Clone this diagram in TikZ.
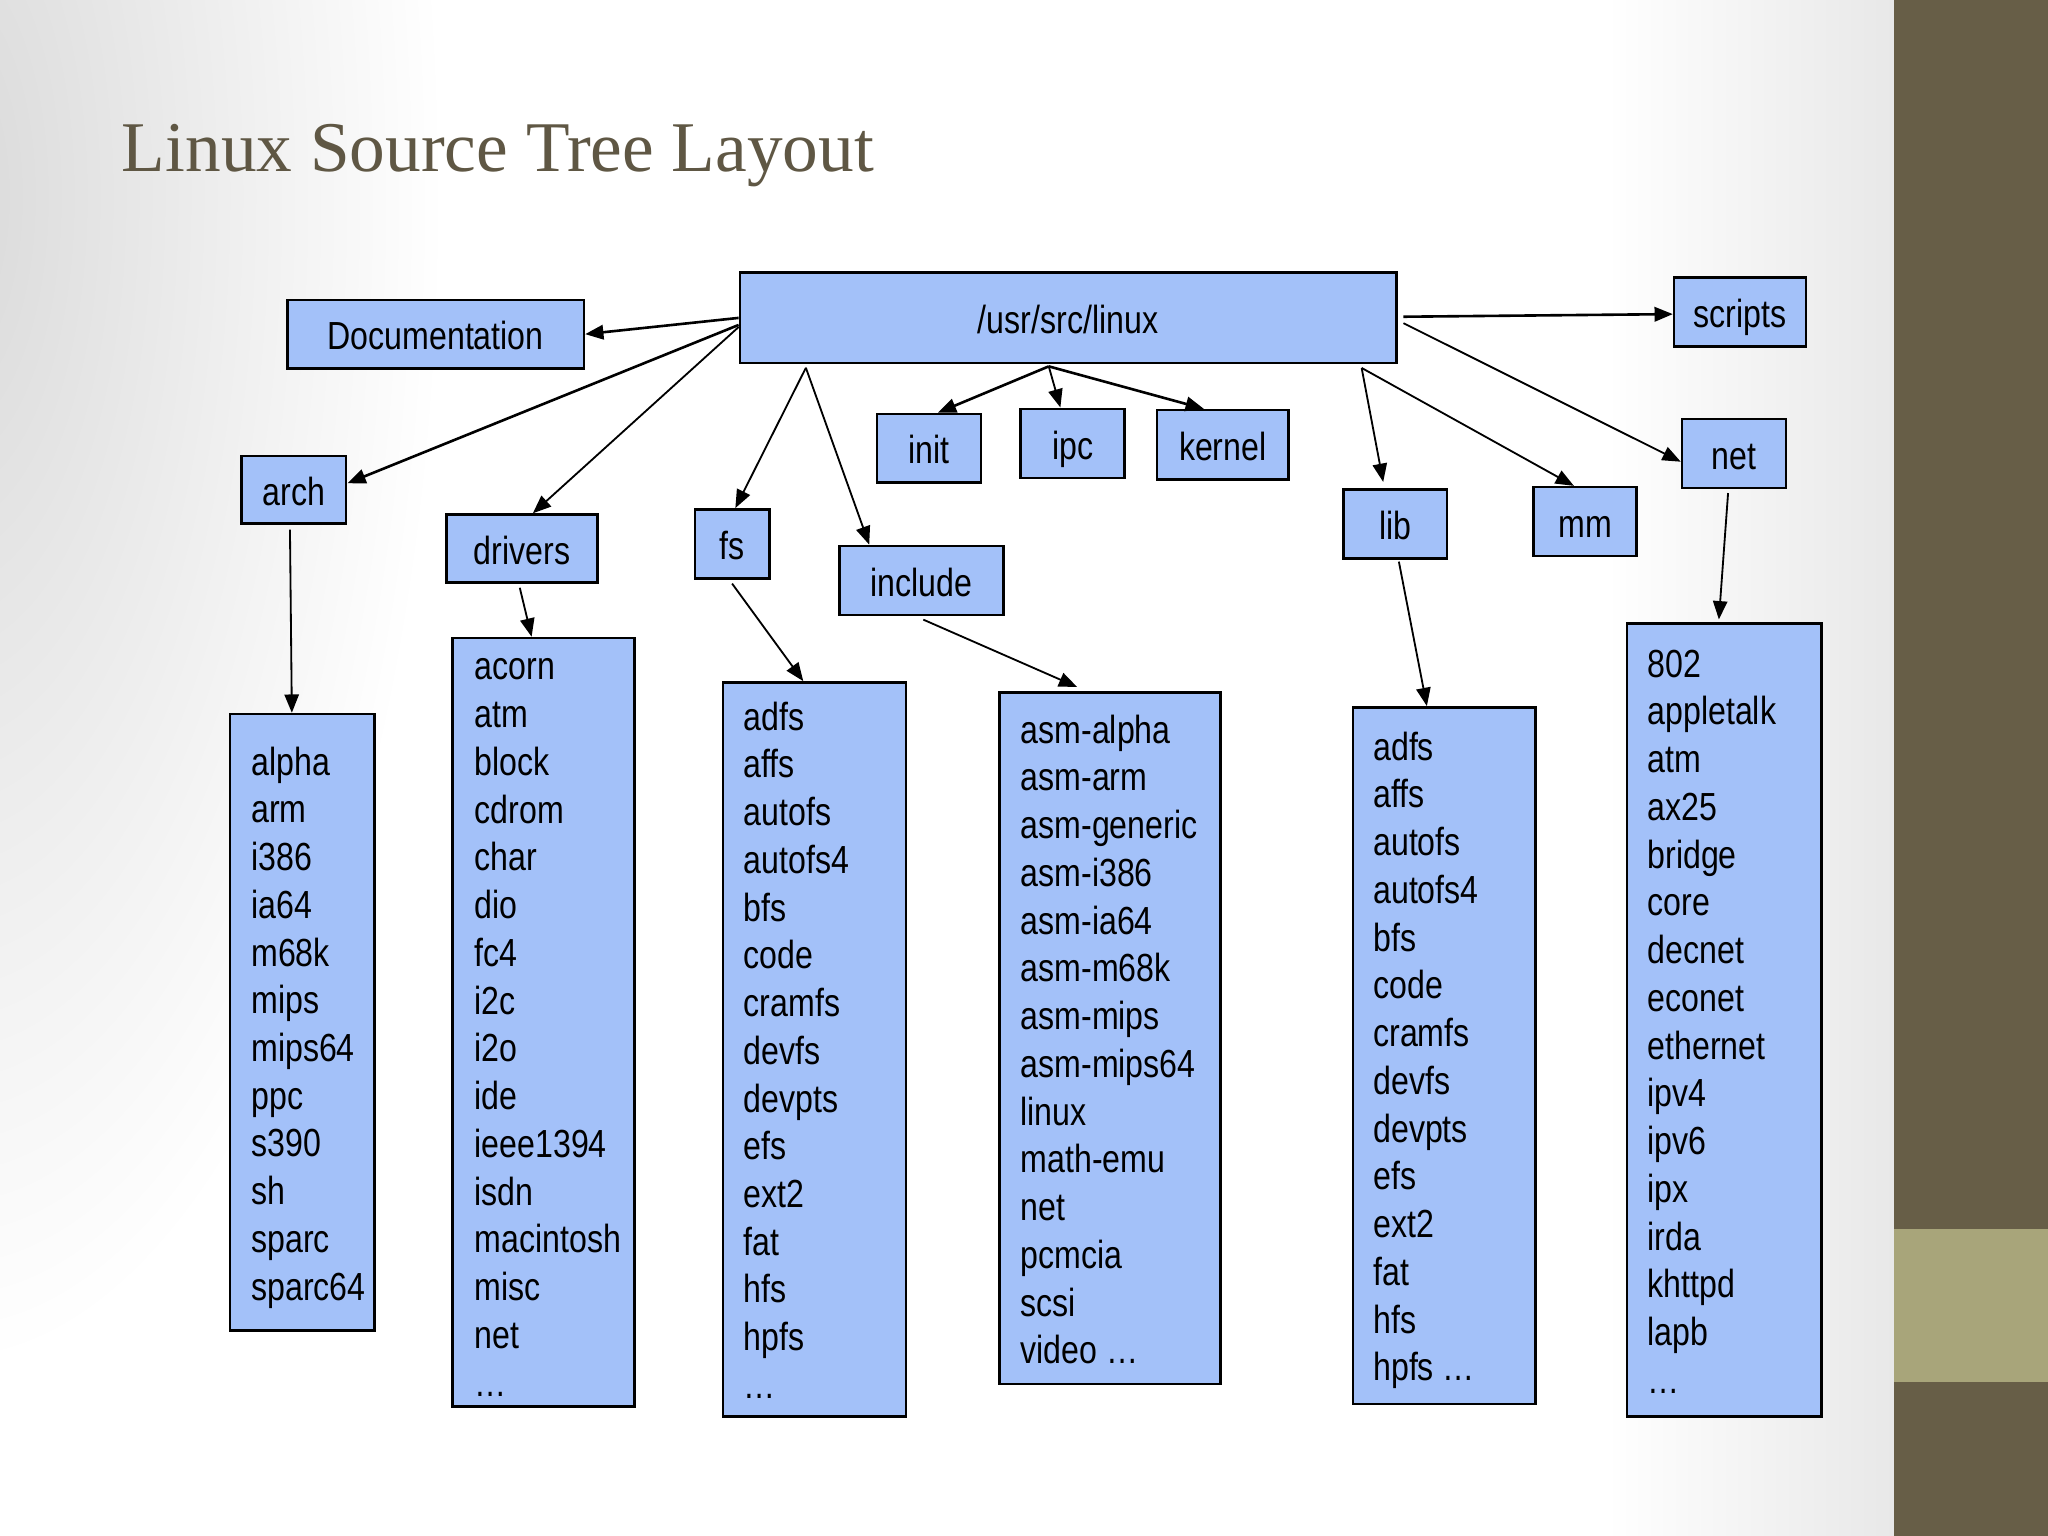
\documentclass[tikz,border=0pt]{standalone}
\usepackage{fontspec}
\setmainfont{Liberation Sans}
\newfontfamily\narrowsans{Liberation Sans}[FakeStretch=0.82]
\newfontfamily\titleserif{Liberation Serif}
\usetikzlibrary{arrows.meta,calc}
\definecolor{boxblue}{HTML}{A3C1F9}
\definecolor{barbrown}{HTML}{675E47}
\definecolor{barlight}{HTML}{A8A57A}
\definecolor{titlecol}{HTML}{5F5744}
\newcommand\bxfont{\narrowsans\fontsize{15}{18}\selectfont}
\begin{document}
\begin{tikzpicture}[x=0.5pt,y=-0.5pt,
  box/.style={draw=black,line width=1pt,fill=boxblue,inner sep=0pt,font=\bxfont,text height=12pt,text depth=0pt},
  item/.style={font=\bxfont,inner sep=0pt,anchor=base west},
  arr/.style={-{Triangle[length=7pt,width=5.5pt]},line width=0.7pt},
  tarr/.style={arr,line width=1pt}]
\useasboundingbox (0,0) rectangle (1568,1176);
% background
\fill[white] (0,0) rectangle (1568,1176);
\begin{scope}
\clip (0,0) rectangle (1450,1176);
\shade[inner color=black!15,outer color=white] (-40,150) ellipse (380 and 900);
\shade[left color=white,right color=black!9] (1230,0) rectangle (1450,1176);
\end{scope}
\fill[barbrown] (1450,0) rectangle (1568,1176);
\fill[barlight] (1450,941) rectangle (1568,1058);
% title
\node[anchor=base west,inner sep=0pt,font=\titleserif\fontsize{27.3}{32}\selectfont,text=titlecol] (title) at (93,131.5) {Linux Source Tree Layout};
% directory boxes
\node[box,minimum width=251.25pt,minimum height=34.6pt] (linux) at (817.75,243.4) {/usr/src/linux};
\node[box,minimum width=113.5pt,minimum height=26.15pt] (Doc) at (333.5,255.85) {Documentation};
\node[box,minimum width=50.5pt,minimum height=26.4pt] (scripts) at (1332.25,239) {scripts};
\node[box,minimum width=40pt,minimum height=26pt] (arch) at (225,375) {arch};
\node[box,minimum width=57.75pt,minimum height=26pt] (drivers) at (399.75,420) {drivers};
\node[box,minimum width=28.5pt,minimum height=26.5pt] (fs) at (560.5,416.5) {fs};
\node[box,minimum width=63pt,minimum height=26.5pt] (include) at (705.5,444.5) {include};
\node[box,minimum width=39.75pt,minimum height=26.25pt] (init) at (711.25,343.25) {init};
\node[box,minimum width=39.75pt,minimum height=26.5pt] (ipc) at (821.25,339.5) {ipc};
\node[box,minimum width=50.5pt,minimum height=26.5pt] (kernel) at (936.2,340.5) {kernel};
\node[box,minimum width=39.6pt,minimum height=26.4pt] (lib) at (1068.1,401.4) {lib};
\node[box,minimum width=39.5pt,minimum height=26.35pt] (mm) at (1213.5,399.35) {mm};
\node[box,minimum width=39.85pt,minimum height=26.4pt] (net) at (1327.65,347.2) {net};
% list boxes
\node[box,minimum width=55.25pt,minimum height=236.05pt] (archL) at (231.25,782.75) {};
\node[box,minimum width=69.7pt,minimum height=294.25pt] (drvL) at (416.3,782.75) {};
\node[box,minimum width=70pt,minimum height=281pt] (fsL) at (623.5,803.5) {};
\node[box,minimum width=84.6pt,minimum height=264.7pt] (incL) at (849.9,795) {};
\node[box,minimum width=69.85pt,minimum height=266.7pt] (libL) at (1105.65,808.3) {};
\node[box,minimum width=74.6pt,minimum height=303.6pt] (netL) at (1320.2,781.1) {};
% list entries
\foreach \t [count=\i from 0] in {alpha,arm,i386,ia64,m68k,mips,mips64,ppc,s390,sh,sparc,sparc64}
  \node[item] (archI\i) at (192,{593.4+\i*36.55}) {\t};
\foreach \t [count=\i from 0] in {acorn,atm,block,cdrom,char,dio,fc4,i2c,i2o,ide,ieee1394,isdn,macintosh,misc,net,…}
  \node[item] (drvI\i) at (363,{520.6+\i*36.55}) {\t};
\foreach \t [count=\i from 0] in {adfs,affs,autofs,autofs4,bfs,code,cramfs,devfs,devpts,efs,ext2,fat,hfs,hpfs,…}
  \node[item] (fsI\i) at (569,{559+\i*36.55}) {\t};
\foreach \t [count=\i from 0] in {asm-alpha,asm-arm,asm-generic,asm-i386,asm-ia64,asm-m68k,asm-mips,asm-mips64,linux,math-emu,net,pcmcia,scsi,video …}
  \node[item] (incI\i) at (781,{569+\i*36.55}) {\t};
\foreach \t [count=\i from 0] in {adfs,affs,autofs,autofs4,bfs,code,cramfs,devfs,devpts,efs,ext2,fat,hfs,hpfs …}
  \node[item] (libI\i) at (1051,{582+\i*36.55}) {\t};
\foreach \t [count=\i from 0] in {802,appletalk,atm,ax25,bridge,core,decnet,econet,ethernet,ipv4,ipv6,ipx,irda,khttpd,lapb,…}
  \node[item] (netI\i) at (1261,{518.5+\i*36.55}) {\t};
% connectors
\draw[tarr] (linux.west) -- (Doc.east);
\draw[tarr] ([yshift=-2.7pt]linux.west) -- ([yshift=2.5pt]arch.east);
\draw[arr] ([yshift=-3.5pt]linux.west) -- ([xshift=4.1pt]drivers.north);
\draw[arr] ([xshift=25.75pt,yshift=-1.3pt]linux.south west) -- ([xshift=1.25pt]fs.north);
\draw[arr] ([xshift=25.75pt,yshift=-1.3pt]linux.south west) -- ([xshift=12pt]include.north west);
\draw[tarr] ([xshift=-7.4pt,yshift=-0.75pt]linux.south) -- ([xshift=3.4pt]init.north);
\draw[arr] ([xshift=-7.4pt,yshift=-0.75pt]linux.south) -- ([xshift=-4.7pt]ipc.north);
\draw[tarr] ([xshift=-7.4pt,yshift=-0.75pt]linux.south) -- ([xshift=-7.25pt]kernel.north);
\draw[arr] ([xshift=-13.75pt,yshift=-1.35pt]linux.south east) -- ([xshift=-4.55pt,yshift=2.5pt]lib.north);
\draw[arr] ([xshift=-13.75pt,yshift=-1.35pt]linux.south east) -- ([xshift=-4.25pt]mm.north);
\draw[arr] ([xshift=2.25pt,yshift=-2pt]linux.east) -- ([yshift=-3.15pt]net.west);
\draw[tarr] ([xshift=2.25pt,yshift=0.45pt]linux.east) -- ([yshift=-0.75pt]scripts.west);
\draw[arr] ([xshift=-2.3pt,yshift=-1.45pt]net.south) -- ([xshift=-2.1pt,yshift=1.15pt]netL.north);
\draw[arr] ([xshift=1.45pt,yshift=-0.6pt]lib.south) -- ([xshift=-6.6pt]libL.north);
\draw[arr] ([xshift=-1.5pt,yshift=-1.75pt]arch.south) -- ([xshift=-3.9pt]archL.north);
\draw[arr] ([xshift=-0.9pt,yshift=-1.5pt]drivers.south) -- ([xshift=-4.65pt]drvL.north);
\draw[arr] ([yshift=-1.4pt]fs.south) -- ([xshift=-4.25pt]fsL.north);
\draw[arr] ([xshift=0.7pt,yshift=-1.2pt]include.south) -- ([xshift=-12.6pt,yshift=1.65pt]incL.north);
\end{tikzpicture}
\end{document}
